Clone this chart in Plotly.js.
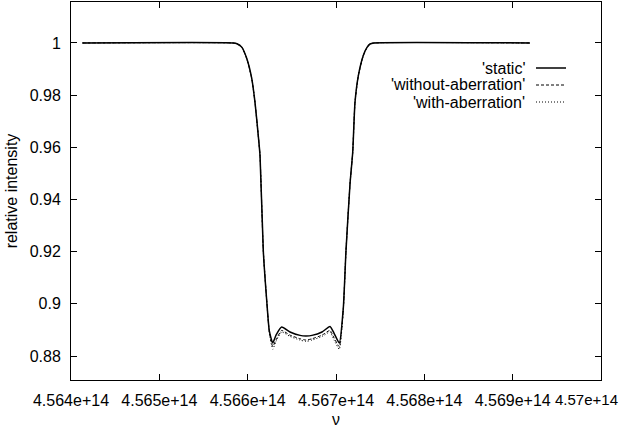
<!DOCTYPE html>
<html>
<head>
<meta charset="utf-8">
<script src="https://cdn.plot.ly/plotly-3.0.1.min.js"></script>
<style>
  html, body { margin: 0; padding: 0; background: #fff; }
  #plot { width: 619px; height: 428px; }
</style>
</head>
<body>
<div id="plot"></div>
<script>
// --- Data ---
const frequency = [
    4.56413e14, 4.565834e14, 4.565879e14, 4.565933e14, 4.565989e14, 4.566046e14,
    4.566083e14, 4.566120e14, 4.566140e14, 4.566177e14, 4.566216e14, 4.566245e14,
    4.566284e14, 4.566321e14, 4.566385e14, 4.566479e14, 4.566593e14, 4.566660e14,
    4.566728e14, 4.566842e14, 4.566932e14, 4.566977e14, 4.567037e14, 4.567083e14,
    4.567113e14, 4.567159e14, 4.567189e14, 4.567215e14, 4.567253e14, 4.567309e14,
    4.567351e14, 4.567385e14, 4.567430e14, 4.569196e14
];

const staticLine = [
    1, 1, 0.9997, 0.9984, 0.9941, 0.9864,
    0.9772, 0.9645, 0.9568, 0.9203, 0.9011, 0.8896,
    0.8850, 0.8880, 0.8911, 0.8892, 0.8879, 0.8877,
    0.8879, 0.8892, 0.8913, 0.8888, 0.8850, 0.8985,
    0.9203, 0.9461, 0.9580, 0.9772, 0.9875, 0.9952,
    0.9983, 0.9996, 1, 1
];

const withoutAberration = [
    1, 1, 0.9997, 0.9984, 0.9941, 0.9864,
    0.9772, 0.9645, 0.9568, 0.9203, 0.9011, 0.8893,
    0.8836, 0.8862, 0.8898, 0.8880, 0.8866, 0.8861,
    0.8866, 0.8880, 0.8898, 0.8870, 0.8836, 0.8980,
    0.9203, 0.9461, 0.9580, 0.9772, 0.9875, 0.9952,
    0.9983, 0.9996, 1, 1
];

const withAberration = [
    1, 1, 0.9997, 0.9984, 0.9941, 0.9864,
    0.9772, 0.9645, 0.9568, 0.9203, 0.9011, 0.8890,
    0.8826, 0.8856, 0.8892, 0.8875, 0.8861, 0.8856,
    0.8861, 0.8875, 0.8892, 0.8862, 0.8826, 0.8978,
    0.9203, 0.9461, 0.9580, 0.9772, 0.9875, 0.9952,
    0.9983, 0.9996, 1, 1
];

const seriesNames = ["'static'", "'without-aberration'", "'with-aberration'"];

const xTickVals = [4.564e14, 4.565e14, 4.566e14, 4.567e14, 4.568e14, 4.569e14, 4.570e14];
const xTickText = ['4.564e+14', '4.565e+14', '4.566e+14', '4.567e+14', '4.568e+14', '4.569e+14', '4.57e+14'];
const yTickVals = [0.88, 0.9, 0.92, 0.94, 0.96, 0.98, 1];
const yTickText = ['0.88', '0.9', '0.92', '0.94', '0.96', '0.98', '1'];

document.addEventListener('DOMContentLoaded', () => {
    const graphDiv = document.getElementById('plot');
    const font = 'Liberation Sans, Arial, sans-serif';

    const dashes = ['solid', '3px,2px', '1px,2px'];
    const widths = [1.5, 1, 1];
    const ys = [staticLine, withoutAberration, withAberration];

    // draw dotted first so the solid line ends up on top
    const traces = [2, 1, 0].map(i => ({
        x: frequency,
        y: ys[i],
        type: 'scatter',
        mode: 'lines',
        name: seriesNames[i],
        line: { color: '#000', width: widths[i], dash: dashes[i], shape: 'spline', smoothing: 0.5 },
        hoverinfo: 'skip'
    }));

    // gnuplot style key: label on the left, sample on the right
    const annotations = [];
    const shapes = [];
    seriesNames.forEach((name, i) => {
        const yPaper = 1 - (68 + i * 17 - 2) / 378;
        annotations.push({
            xref: 'paper', yref: 'paper',
            x: (527 - 71) / 530, y: yPaper,
            xanchor: 'right', yanchor: 'middle',
            text: name, showarrow: false,
            font: { family: font, size: 16, color: '#000' }
        });
        shapes.push({
            type: 'line', xref: 'paper', yref: 'paper',
            x0: (536 - 71) / 530, x1: (566 - 71) / 530,
            y0: yPaper, y1: yPaper,
            line: { color: '#000', width: widths[i], dash: dashes[i] }
        });
    });

    // last tick label would run past the page edge; pin it inside instead
    const lastLabel = xTickText[xTickText.length - 1];
    const tickText = xTickText.slice(0, -1).concat(['']);
    annotations.push({
        xref: 'paper', yref: 'paper',
        x: (619 - 71) / 530, y: -(399 - 380) / 378,
        xanchor: 'right', yanchor: 'middle',
        borderpad: 0,
        text: lastLabel, showarrow: false,
        font: { family: font, size: 15, color: '#000' }
    });

    const layout = {
        width: 619,
        height: 428,
        margin: { l: 71, r: 18, t: 2, b: 48, pad: 0 },
        paper_bgcolor: '#fff',
        plot_bgcolor: '#fff',
        showlegend: false,
        font: { family: font, size: 16, color: '#000' },
        xaxis: {
            range: [4.564e14, 4.570e14],
            tickvals: xTickVals,
            ticktext: tickText,
            ticks: 'inside', ticklen: 6, tickcolor: '#000',
            showline: true, linecolor: '#000', linewidth: 1, mirror: 'ticks',
            showgrid: false, zeroline: false,
            ticklabelstandoff: 6,
            title: { text: 'ν', standoff: 8, font: { family: font, size: 16 } }
        },
        yaxis: {
            range: [0.8708, 1.0157],
            tickvals: yTickVals,
            ticktext: yTickText,
            ticks: 'inside', ticklen: 6, tickcolor: '#000',
            showline: true, linecolor: '#000', linewidth: 1, mirror: 'ticks',
            showgrid: false, zeroline: false,
            ticklabelstandoff: 6,
            title: { text: 'relative intensity', standoff: 8, font: { family: font, size: 16 } }
        },
        annotations: annotations,
        shapes: shapes
    };

    Plotly.newPlot(graphDiv, traces, layout, { displayModeBar: false, staticPlot: true });
});
</script>
</body>
</html>
